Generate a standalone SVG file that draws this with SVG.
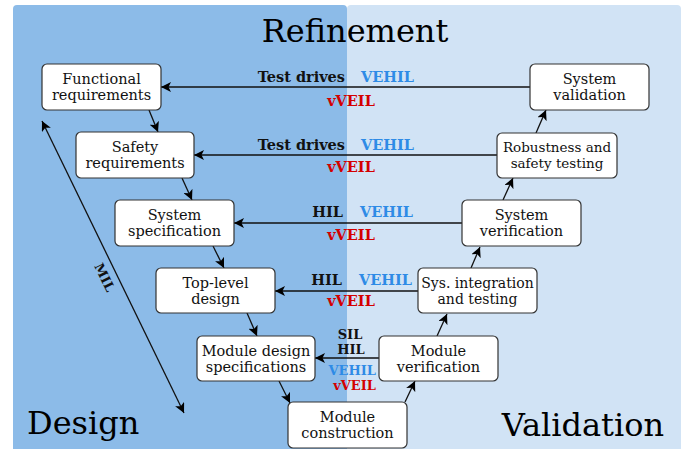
<svg xmlns="http://www.w3.org/2000/svg" width="681" height="449" viewBox="0 0 681 449">
<defs>
<marker id="ah" viewBox="0 0 10 10" refX="10" refY="5" markerWidth="10" markerHeight="10" markerUnits="userSpaceOnUse" orient="auto-start-reverse">
<path d="M0,0 L10,5 L0,10 L2.5,5 z" fill="#000"/>
</marker>
</defs>
<style>
.node rect{fill:#fff;stroke:#333;stroke-width:1.2}
.node text{font-family:"DejaVu Serif",serif;font-size:14.5px;fill:#111;text-anchor:middle}
.title{font-family:"DejaVu Serif",serif;font-size:32px;fill:#000}
.lbl{font-family:"DejaVu Serif",serif;font-size:14.5px;font-weight:bold}
.sm{font-size:13px}
.k{fill:#111}
.b{fill:#2e8be6}
.r{fill:#d40000}
#connectors line{stroke:#111;stroke-width:1.3;marker-end:url(#ah)}
</style>
<rect x="0" y="0" width="681" height="449" fill="#fff"/>
<g id="panels">
<path d="M13,449 L13,9 Q13,5 17,5 L343,5 Q347,5 347,9 L347,449 z" fill="#8cbbe8"/>
<path d="M347,449 L347,9 Q347,5 351,5 L677,5 Q681,5 681,9 L681,449 z" fill="#d1e3f5"/>
</g>
<text class="title" x="355" y="42" text-anchor="middle">Refinement</text>
<text class="title" x="27" y="434">Design</text>
<text class="title" x="664" y="436" text-anchor="end">Validation</text>

<g id="connectors">
<line x1="530" y1="87" x2="161" y2="87"/>
<line x1="497" y1="155" x2="194" y2="155"/>
<line x1="462" y1="223" x2="234" y2="223"/>
<line x1="418" y1="291" x2="275" y2="291"/>
<line x1="379" y1="358" x2="315" y2="358"/>
<line x1="149" y1="110" x2="158" y2="132"/>
<line x1="182" y1="178" x2="192" y2="200"/>
<line x1="213" y1="246" x2="224" y2="268"/>
<line x1="247" y1="313" x2="257" y2="336"/>
<line x1="279" y1="381" x2="290" y2="403"/>
<line x1="405" y1="402" x2="415" y2="381"/>
<line x1="437" y1="336" x2="447" y2="314"/>
<line x1="471" y1="268" x2="480" y2="247"/>
<line x1="503" y1="200" x2="513" y2="178"/>
<line x1="536" y1="133" x2="546" y2="110"/>
<line x1="42" y1="121" x2="184" y2="413" style="marker-start:url(#ah)"/>
</g>

<g id="labels">
<text class="lbl k" x="345" y="82" text-anchor="end">Test drives</text>
<text class="lbl b" x="361" y="82">VEHIL</text>
<text class="lbl r" x="351" y="106" text-anchor="middle">vVEIL</text>
<text class="lbl k" x="345" y="150" text-anchor="end">Test drives</text>
<text class="lbl b" x="361" y="150">VEHIL</text>
<text class="lbl r" x="351" y="172" text-anchor="middle">vVEIL</text>
<text class="lbl k" x="343" y="217" text-anchor="end">HIL</text>
<text class="lbl b" x="360" y="217">VEHIL</text>
<text class="lbl r" x="351" y="240" text-anchor="middle">vVEIL</text>
<text class="lbl k" x="342" y="285" text-anchor="end">HIL</text>
<text class="lbl b" x="359" y="285">VEHIL</text>
<text class="lbl r" x="351" y="306" text-anchor="middle">vVEIL</text>
<text class="lbl sm k" x="350" y="339" text-anchor="middle">SIL</text>
<text class="lbl sm k" x="351" y="354" text-anchor="middle">HIL</text>
<text class="lbl sm b" x="376" y="374.5" text-anchor="end">VEHIL</text>
<text class="lbl sm r" x="376" y="389.5" text-anchor="end">vVEIL</text>
<text class="lbl k" transform="translate(94,266) rotate(64)" style="font-size:13px">MIL</text>
</g>

<g id="functional" class="node"><rect x="42" y="64" width="119" height="46" rx="5"/><text x="101.5" y="84">Functional</text><text x="101.5" y="100">requirements</text></g>
<g id="safety" class="node"><rect x="76" y="132" width="118" height="46" rx="5"/><text x="135" y="152">Safety</text><text x="135" y="168">requirements</text></g>
<g id="sysspec" class="node"><rect x="115" y="200" width="119" height="46" rx="5"/><text x="174.5" y="220">System</text><text x="174.5" y="236">specification</text></g>
<g id="toplevel" class="node"><rect x="156" y="268" width="119" height="45" rx="5"/><text x="215.5" y="288">Top-level</text><text x="215.5" y="304">design</text></g>
<g id="moddesign" class="node"><rect x="197" y="336" width="118" height="45" rx="5"/><text x="256" y="356">Module design</text><text x="256" y="372">specifications</text></g>
<g id="modconst" class="node"><rect x="288" y="402" width="119" height="46" rx="5"/><text x="347.5" y="422">Module</text><text x="347.5" y="438">construction</text></g>
<g id="modverif" class="node"><rect x="379" y="336" width="119" height="45" rx="5"/><text x="438.5" y="356">Module</text><text x="438.5" y="372">verification</text></g>
<g id="sysint" class="node"><rect x="418" y="268" width="119" height="45" rx="5"/><text x="477.5" y="288" style="font-size:14px">Sys. integration</text><text x="477.5" y="304" style="font-size:14px">and testing</text></g>
<g id="sysverif" class="node"><rect x="462" y="200" width="119" height="46" rx="5"/><text x="521.5" y="220">System</text><text x="521.5" y="236">verification</text></g>
<g id="robust" class="node"><rect x="497" y="133" width="120" height="45" rx="5"/><text x="557" y="152" style="font-size:13.5px">Robustness and</text><text x="557" y="168" style="font-size:13.5px">safety testing</text></g>
<g id="sysval" class="node"><rect x="530" y="64" width="119" height="46" rx="5"/><text x="589.5" y="84">System</text><text x="589.5" y="100">validation</text></g>
</svg>
